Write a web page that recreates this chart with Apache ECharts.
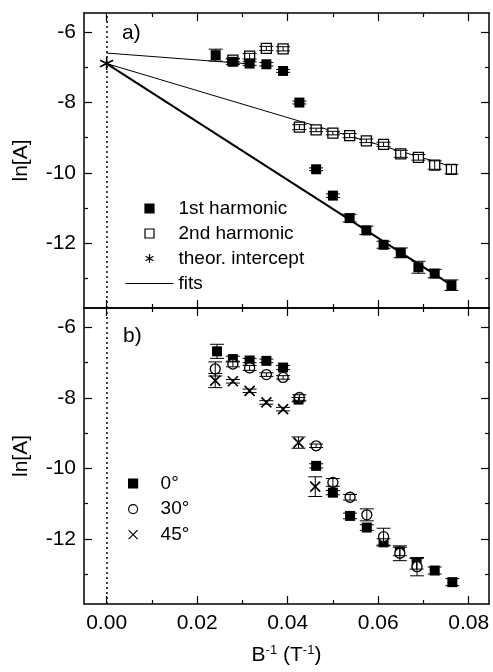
<!DOCTYPE html>
<html>
<head>
<meta charset="utf-8">
<script src="https://cdn.jsdelivr.net/npm/echarts@6/dist/echarts.min.js"></script>
<style>
  html, body { margin: 0; padding: 0; background: #fff; }
  #chart { width: 493px; height: 672px; }
</style>
</head>
<body>
<div id="chart"></div>
<script>
// axis ranges and ticks
const xMin = -0.005, xMax = 0.0845;
const yMin = -13.85, yMax = -5.45;
const xMajor = [0, 0.02, 0.04, 0.06, 0.08];
const xMinor = [0.01, 0.03, 0.05, 0.07];
const yMajor = [-12, -10, -8, -6];
const yMinor = [-13, -11, -9, -7];

// panel a) -- [B^-1, ln A, error]
const harm1 = [
    [0.0241, -6.65, 0.17], [0.0279, -6.84, 0.08], [0.0316, -6.89, 0.05], [0.0353, -6.91, 0.05],
    [0.0390, -7.10, 0.04], [0.0426, -8.00, 0.04], [0.0463, -9.90, 0.04], [0.0500, -10.65, 0.05],
    [0.0537, -11.29, 0.11], [0.0574, -11.64, 0.12], [0.0612, -12.05, 0.10], [0.0650, -12.28, 0.14],
    [0.0689, -12.69, 0.17], [0.0725, -12.87, 0.12], [0.0762, -13.20, 0.15]
];
const harm2 = [
    [0.0279, -6.79, 0.05], [0.0316, -6.68, 0.08], [0.0353, -6.46, 0.06], [0.0390, -6.47, 0.06],
    [0.0426, -8.70, 0.07], [0.0463, -8.78, 0.05], [0.0500, -8.87, 0.05], [0.0537, -8.94, 0.06],
    [0.0574, -9.09, 0.05], [0.0612, -9.19, 0.06], [0.0650, -9.46, 0.10], [0.0689, -9.56, 0.08],
    [0.0725, -9.78, 0.12], [0.0762, -9.90, 0.13]
];
const intercept = [[0, -6.89]];
const fitLow = [[0, -6.59], [0.0316, -6.90]];
const fit2nd = [[0, -6.89], [0.0762, -9.82]];
const fit1st = [[0, -6.89], [0.0762, -13.20]];

// panel b) -- angle series
const ang0 = [
    [0.0244, -6.68, 0.20], [0.0279, -6.90, 0.08], [0.0316, -6.94, 0.06], [0.0353, -6.95, 0.05],
    [0.0390, -7.14, 0.06], [0.0424, -8.05, 0.06], [0.0463, -9.93, 0.06], [0.0500, -10.69, 0.06],
    [0.0538, -11.35, 0.08], [0.0575, -11.68, 0.08], [0.0612, -12.10, 0.10], [0.0648, -12.36, 0.12],
    [0.0685, -12.71, 0.15], [0.0725, -12.90, 0.10], [0.0764, -13.23, 0.10]
];
const ang30 = [
    [0.0240, -7.18, 0.20], [0.0279, -7.04, 0.08], [0.0316, -7.15, 0.07], [0.0353, -7.34, 0.05],
    [0.0390, -7.42, 0.05], [0.0426, -7.99, 0.08], [0.0463, -9.36, 0.05], [0.0500, -10.40, 0.11],
    [0.0538, -10.82, 0.08], [0.0575, -11.32, 0.17], [0.0612, -11.94, 0.24], [0.0648, -12.41, 0.21],
    [0.0686, -12.79, 0.26]
];
const ang45 = [
    [0.0240, -7.51, 0.20], [0.0279, -7.53, 0.05], [0.0316, -7.80, 0.05], [0.0353, -8.13, 0.05],
    [0.0390, -8.32, 0.05], [0.0424, -9.27, 0.16], [0.0461, -10.52, 0.28]
];

const FONT = '"Liberation Sans", Arial, sans-serif';
const SQUARE = 'path://M0,0L10,0L10,10L0,10Z';
const CROSS = 'path://M0,0L10,10M10,0L0,10';
const STAR = 'path://M5,0L5,10M0.67,2.5L9.33,7.5M0.67,7.5L9.33,2.5';

const chart = echarts.init(document.getElementById('chart'));

function makeXAxes(grid, withLabels) {
    const tick = { inside: true, lineStyle: { color: '#000', width: 1.2 } };
    const base = {
        gridIndex: grid, type: 'value', min: xMin, max: xMax,
        splitLine: { show: false }, axisLabel: { show: false },
        axisLine: { show: false, onZero: false }
    };
    const line = { show: true, onZero: false, lineStyle: { color: '#000', width: 1.5 } };
    const bottom = Object.assign({}, base, {
        position: 'bottom', axisLine: line,
        axisTick: Object.assign({}, tick, { length: 8, customValues: xMajor })
    });
    if (withLabels) {
        bottom.axisLabel = {
            show: true, customValues: xMajor, margin: 9,
            fontSize: 21, color: '#000', fontFamily: FONT,
            formatter: v => v.toFixed(2)
        };
        bottom.name = 'B{s|-1} (T{s|-1})';
        bottom.nameLocation = 'middle';
        bottom.nameGap = 40;
        bottom.nameTextStyle = {
            fontSize: 21, color: '#000', fontFamily: FONT,
            rich: { s: { fontSize: 13, fontFamily: FONT, color: '#000', padding: [0, 0, 10, 0] } }
        };
    }
    return [
        bottom,
        Object.assign({}, base, { position: 'bottom', axisTick: Object.assign({}, tick, { length: 4, customValues: xMinor }) }),
        Object.assign({}, base, { position: 'top', axisLine: line, axisTick: Object.assign({}, tick, { length: 8, customValues: xMajor }) }),
        Object.assign({}, base, { position: 'top', axisTick: Object.assign({}, tick, { length: 4, customValues: xMinor }) })
    ];
}

function makeYAxes(grid) {
    const tick = { inside: true, lineStyle: { color: '#000', width: 1.2 } };
    const base = {
        gridIndex: grid, type: 'value', min: yMin, max: yMax,
        splitLine: { show: false }, axisLabel: { show: false },
        axisLine: { show: false, onZero: false }
    };
    const line = { show: true, onZero: false, lineStyle: { color: '#000', width: 1.5 } };
    return [
        Object.assign({}, base, {
            position: 'left', axisLine: line,
            axisTick: Object.assign({}, tick, { length: 8, customValues: yMajor }),
            axisLabel: { show: true, customValues: yMajor, margin: 8, fontSize: 21, color: '#000', fontFamily: FONT },
            name: 'ln[A]', nameLocation: 'middle', nameGap: 52,
            nameTextStyle: { fontSize: 21, color: '#000', fontFamily: FONT }
        }),
        Object.assign({}, base, { position: 'left', axisTick: Object.assign({}, tick, { length: 4, customValues: yMinor }) }),
        Object.assign({}, base, { position: 'right', axisLine: line, axisTick: Object.assign({}, tick, { length: 8, customValues: yMajor }) }),
        Object.assign({}, base, { position: 'right', axisTick: Object.assign({}, tick, { length: 4, customValues: yMinor }) })
    ];
}

function errorBars(data, ax) {
    return {
        type: 'custom', xAxisIndex: ax, yAxisIndex: ax, z: 5,
        encode: { x: 0, y: 1 },
        data: data,
        renderItem: (params, api) => {
            const x = api.value(0), y = api.value(1), e = api.value(2);
            const hi = api.coord([x, y + e]);
            const lo = api.coord([x, y - e]);
            const c = 7;
            const style = { stroke: '#000', lineWidth: 1 };
            return {
                type: 'group',
                children: [
                    { type: 'line', shape: { x1: hi[0], y1: hi[1], x2: lo[0], y2: lo[1] }, style },
                    { type: 'line', shape: { x1: hi[0] - c, y1: hi[1], x2: hi[0] + c, y2: hi[1] }, style },
                    { type: 'line', shape: { x1: lo[0] - c, y1: lo[1], x2: lo[0] + c, y2: lo[1] }, style }
                ]
            };
        }
    };
}

const zeroLine = {
    silent: true, symbol: 'none', label: { show: false },
    lineStyle: { color: '#000', type: [2, 3], width: 1.5 },
    data: [{ xAxis: 0 }]
};

const legendItemStyle = { borderColor: '#000', borderWidth: 1.2, opacity: 1 };
const filled = { color: '#000', opacity: 1 };
const hollow = { color: '#fff', borderColor: '#000', borderWidth: 1.3, opacity: 1 };
const stroked = { color: '#000', borderColor: '#000', borderWidth: 1.6, opacity: 1 };
const fitItem = { color: 'rgba(0,0,0,0)', borderColor: 'rgba(0,0,0,0)', borderWidth: 0 };

const option = {
    backgroundColor: '#fff',
    animation: false,
    title: [
        { text: 'a)', left: 122, top: 23, padding: 0, textStyle: { fontSize: 21, fontWeight: 'normal', color: '#000', fontFamily: FONT } },
        { text: 'b)', left: 123, top: 326, padding: 0, textStyle: { fontSize: 21, fontWeight: 'normal', color: '#000', fontFamily: FONT } }
    ],
    grid: [
        { left: 84, right: 4, top: 13, height: 295 },
        { left: 84, right: 4, top: 308, height: 296 }
    ],
    legend: [
        {
            orient: 'vertical', left: 125, top: 199, padding: 0,
            itemWidth: 48, itemHeight: 9, itemGap: 6, symbolKeepAspect: true,
            selectedMode: false, itemStyle: legendItemStyle,
            textStyle: { fontSize: 19, lineHeight: 19, color: '#000', fontFamily: FONT },
            data: [
                { name: '1st harmonic', icon: SQUARE },
                { name: '2nd harmonic', icon: SQUARE },
                { name: 'theor. intercept', icon: STAR },
                { name: 'fits', itemStyle: fitItem, lineStyle: { color: '#000', width: 1 } }
            ]
        },
        {
            orient: 'vertical', left: 128, top: 474, padding: 0,
            itemWidth: 45, itemHeight: 9, itemGap: 6.6, symbolKeepAspect: true,
            selectedMode: false, itemStyle: legendItemStyle,
            textStyle: { fontSize: 19, lineHeight: 19, color: '#000', fontFamily: FONT },
            data: [
                { name: '0°', icon: SQUARE },
                { name: '30°', icon: 'circle' },
                { name: '45°', icon: CROSS }
            ]
        }
    ],
    xAxis: makeXAxes(0, false).concat(makeXAxes(1, true)),
    yAxis: makeYAxes(0).concat(makeYAxes(1)),
    series: [
        // ---- panel a
        {
            name: 'fits', type: 'line', xAxisIndex: 0, yAxisIndex: 0, data: fit2nd,
            symbol: 'none', itemStyle: fitItem, lineStyle: { color: '#000', width: 1 }, z: 2
        },
        {
            name: 'fits', type: 'line', xAxisIndex: 0, yAxisIndex: 0, data: fitLow,
            symbol: 'none', itemStyle: fitItem, lineStyle: { color: '#000', width: 1 }, z: 2
        },
        {
            name: 'fits', type: 'line', xAxisIndex: 0, yAxisIndex: 0, data: fit1st,
            symbol: 'none', itemStyle: fitItem, lineStyle: { color: '#000', width: 2 }, z: 2,
            markLine: zeroLine
        },
        {
            name: '2nd harmonic', type: 'scatter', xAxisIndex: 0, yAxisIndex: 0, data: harm2,
            symbol: 'rect', symbolSize: 10, z: 3, itemStyle: hollow
        },
        {
            name: '1st harmonic', type: 'scatter', xAxisIndex: 0, yAxisIndex: 0, data: harm1,
            symbol: 'rect', symbolSize: 10, z: 4, itemStyle: filled
        },
        {
            name: 'theor. intercept', type: 'scatter', xAxisIndex: 0, yAxisIndex: 0, data: intercept,
            symbol: STAR, symbolSize: 13, z: 6, itemStyle: stroked
        },
        errorBars(harm2, 0),
        errorBars(harm1, 0),
        // ---- panel b
        {
            name: '0°', type: 'scatter', xAxisIndex: 4, yAxisIndex: 4, data: ang0,
            symbol: 'rect', symbolSize: 10, z: 3, itemStyle: filled,
            markLine: zeroLine
        },
        {
            name: '30°', type: 'scatter', xAxisIndex: 4, yAxisIndex: 4, data: ang30,
            symbol: 'circle', symbolSize: 10, z: 4, itemStyle: hollow
        },
        {
            name: '45°', type: 'scatter', xAxisIndex: 4, yAxisIndex: 4, data: ang45,
            symbol: CROSS, symbolSize: 10, z: 4, itemStyle: stroked
        },
        errorBars(ang0, 4),
        errorBars(ang30, 4),
        errorBars(ang45, 4)
    ]
};

chart.setOption(option);
</script>
</body>
</html>
